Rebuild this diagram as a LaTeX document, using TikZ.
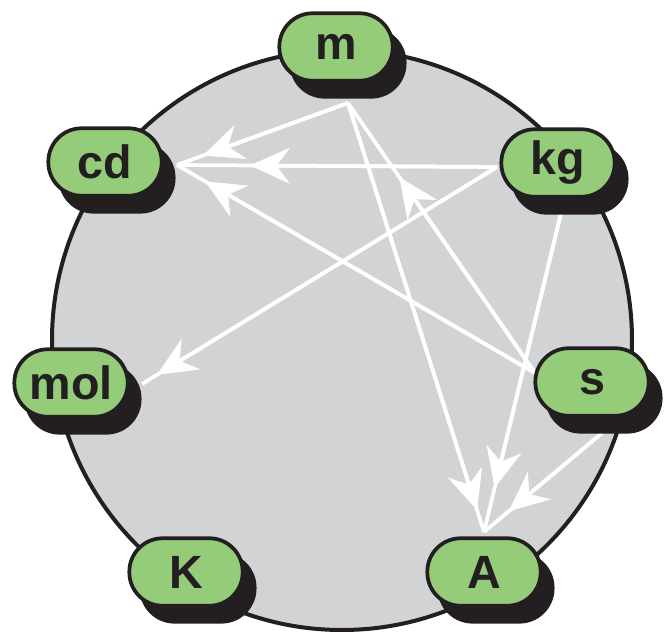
\documentclass[tikz,border=0pt]{standalone}
\usepackage{fontspec}
\setmainfont{Liberation Sans}
\usetikzlibrary{arrows.meta,shadows,calc}
\definecolor{disk}{HTML}{D1D3D4}
\definecolor{leaf}{HTML}{94CC79}
\definecolor{ink}{HTML}{231F20}
\pgfdeclarelayer{disklayer}
\pgfdeclarelayer{linklayer}
\pgfsetlayers{disklayer,linklayer,main}
\begin{document}
\begin{tikzpicture}[x=0.75pt,y=-0.75pt,
  unit/.style={draw=ink, fill=leaf, line width=2.8pt, rounded corners=25pt,
    minimum width=85pt, minimum height=50.6pt, inner sep=0pt, text=ink,
    font=\fontsize{35}{40}\selectfont\bfseries,
    drop shadow={shadow xshift=9pt, shadow yshift=-12pt, fill=ink, draw=ink, line width=2.8pt, opacity=1}},
  link/.style={draw=white, line width=2.8pt},
  head/.style={draw=white, fill=white, line width=2.8pt, -{Stealth[length=30pt,width=27pt,inset=10pt,line width=0.5pt]}}
]
\useasboundingbox (0,0) rectangle (672,632);

\node[unit] (m)   at (336,47)  {m};
\node[unit] (cd)  at (105,162) {cd};
\node[unit] (kg)  at (558,163) {kg};
\node[unit] (s)   at (592,382) {s};
\node[unit] (mol) at (71,383)  {mol};
\node[unit] (K)   at (186,572) {K};
\node[unit] (A)   at (484,572) {A};

\begin{pgfonlayer}{disklayer}
  \node[circle, draw=ink, fill=disk, line width=3pt, minimum size=435pt, inner sep=0pt] (disk) at (342,340) {};
\end{pgfonlayer}

\coordinate (mP)   at ($(m)+(12,56)$);
\coordinate (cdP)  at ($(cd)+(72,3)$);
\coordinate (kgP)  at ($(kg)+(-61,4)$);
\coordinate (kgB)  at ($(kg)+(5,42)$);
\coordinate (sP)   at ($(s)+(-57,-9)$);
\coordinate (sB)   at ($(s)+(10,51)$);
\coordinate (molP) at ($(mol)+(71,1)$);
\coordinate (AP)   at ($(A)+(0,-40)$);

\begin{pgfonlayer}{linklayer}
  \draw[link] (mP) -- (cdP);
  \draw[head] (mP) -- ($(mP)!0.848!(cdP)$);
  \draw[link] (kgP) -- (cdP);
  \draw[head] (kgP) -- ($(kgP)!0.772!(cdP)$);
  \draw[link] (sP) -- (cdP);
  \draw[head] (sP) -- ($(sP)!0.922!(cdP)$);
  \draw[link] (kgP) -- (molP);
  \draw[head] (kgP) -- ($(kgP)!0.958!(molP)$);
  \draw[link] (sP) -- (mP);
  \draw[head] (sP) -- ($(sP)!0.725!(mP)$);
  \draw[link] (mP) -- (AP);
  \draw[head] (mP) -- ($(mP)!0.949!(AP)$);
  \draw[link] (kgB) -- (AP);
  \draw[head] (kgB) -- ($(kgB)!0.865!(AP)$);
  \draw[link] (sB) -- (AP);
  \draw[head] (sB) -- ($(sB)!0.79!(AP)$);
\end{pgfonlayer}
\end{tikzpicture}
\end{document}
